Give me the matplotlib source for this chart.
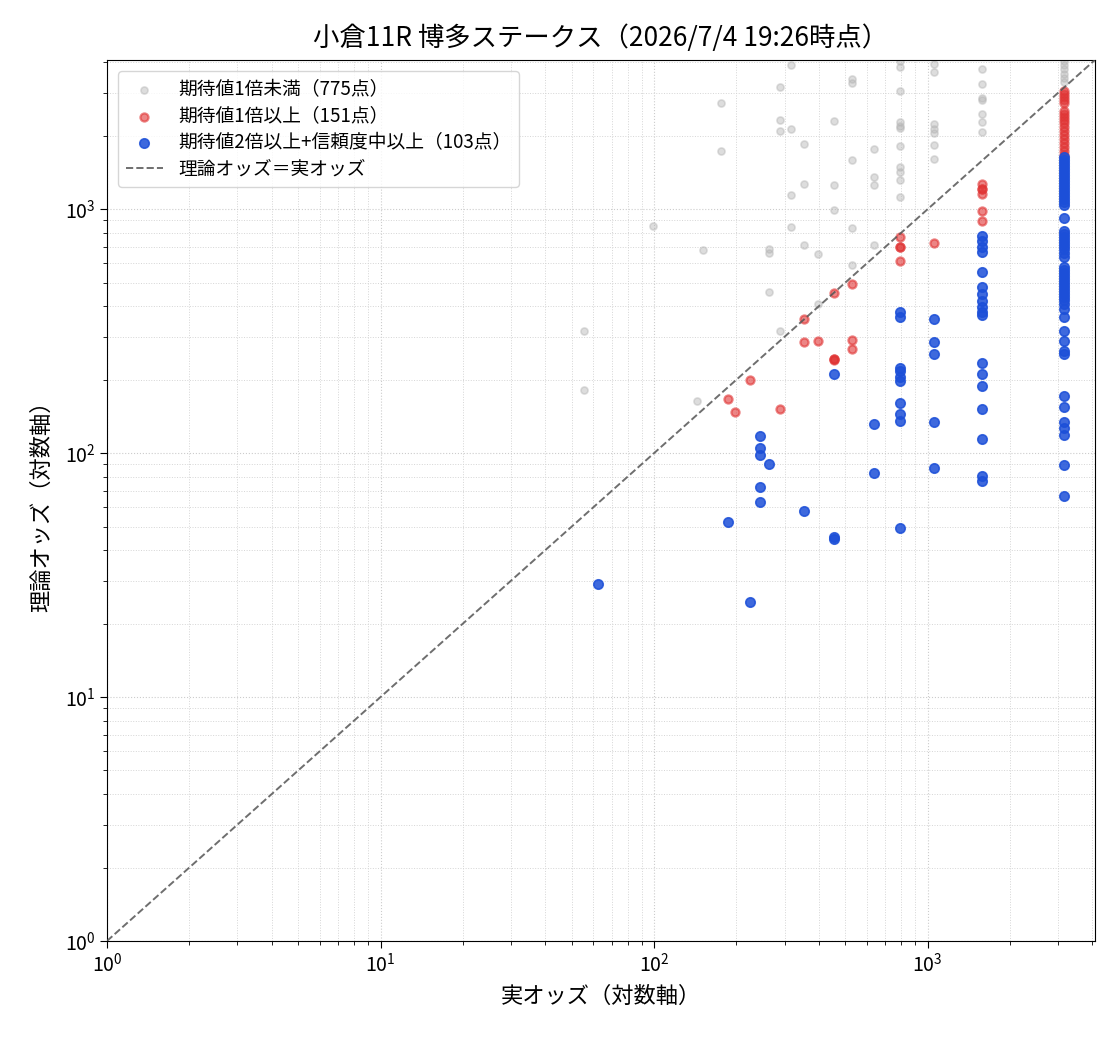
import matplotlib
matplotlib.use("Agg")
import matplotlib.pyplot as plt
import numpy as np

plt.rcParams['font.family'] = ['Noto Sans CJK JP', 'DejaVu Sans']

title = "小倉11R 博多ステークス（2026/7/4 19:26時点）"
xlabel = "実オッズ（対数軸）"
ylabel = "理論オッズ（対数軸）"
label_gray = "期待値1倍未満（775点）"
label_red = "期待値1倍以上（151点）"
label_blue = "期待値2倍以上+信頼度中以上（103点）"
label_line = "理論オッズ＝実オッズ"

# gray: expected value < 1 (visible ones)
gray_x = [55.3, 55.3, 98.8, 144, 150.6, 175, 175, 264, 264, 264, 288, 288, 288, 288,
          316, 316, 316, 316, 352, 352, 352, 396, 396, 453, 453, 453,
          527, 527, 527, 527, 527, 634, 634, 634, 634,
          789, 789, 789, 789, 789, 789, 789, 789, 789, 789, 789,
          1051, 1051, 1051, 1051, 1051, 1051, 1051,
          1574, 1574, 1574, 1574, 1574, 1574, 1574,
          3140, 3140, 3140, 3140, 3140, 3140]
gray_y = [316, 182, 851, 163, 678, 2721, 1729, 684, 659, 456, 3165, 2316, 2089, 316,
          3893, 2128, 1140, 843, 1846, 1265, 711, 653, 407, 2295, 1253, 989,
          3300, 3400, 1587, 835, 589, 1762, 1352, 1253, 711,
          4046, 3822, 3047, 2274, 2189, 2150, 1813, 1486, 1417, 1314, 1119,
          3934, 3645, 2230, 2128, 2048, 1829, 1603,
          3750, 3257, 2851, 2800, 2451, 2274, 2069,
          4046, 3893, 3750, 3580, 3444, 3318]

# red: expected value >= 1
red_x = [186, 197, 225, 288, 352, 352, 396, 453, 453, 453, 453, 527, 527, 527,
         789, 789, 789, 789, 1051,
         1574, 1574, 1574, 1574, 1574, 1574,
         3140, 3140, 3140, 3140, 3140, 3140, 3140, 3140, 3140, 3140, 3140, 3140,
         3140, 3140, 3140, 3140, 3140, 3140]
red_y = [166, 148, 200, 152, 353, 284, 287, 452, 242, 243, 241, 492, 292, 266,
         767, 698, 700, 611, 724,
         1265, 1207, 1210, 1151, 980, 892,
         3047, 2960, 2877, 2799, 2722, 2523, 2451, 2384, 2317, 2251, 2167, 2089,
         2011, 1936, 1864, 1795, 1728, 1664]

# blue: expected value >= 2 and confidence >= medium
blue_x = [62.2, 186, 225, 243, 243, 243, 243, 243, 264, 352, 453, 453, 453, 634, 634,
          789, 789, 789, 789, 789, 789, 789, 789, 789, 789,
          1051, 1051, 1051, 1051, 1051,
          1574, 1574, 1574, 1574, 1574, 1574, 1574, 1574, 1574, 1574, 1574,
          1574, 1574, 1574, 1574, 1574, 1574, 1574,
          3140, 3140, 3140, 3140, 3140, 3140, 3140, 3140, 3140, 3140, 3140, 3140,
          3140, 3140, 3140, 3140, 3140, 3140, 3140, 3140, 3140, 3140, 3140, 3140,
          3140, 3140, 3140, 3140, 3140, 3140, 3140, 3140, 3140, 3140, 3140, 3140,
          3140, 3140, 3140, 3140, 3140, 3140, 3140, 3140, 3140, 3140, 3140, 3140,
          3140, 3140, 3140, 3140, 3140]
blue_y = [29.2, 52.4, 24.6, 117, 104.6, 97.8, 72.9, 63.3, 90.6, 58.1, 210, 44.6, 45.5, 131, 82.5,
          377, 360, 224, 216, 206, 197, 160, 145, 136, 49.1,
          353, 284, 254, 134, 86.5,
          774, 738, 698, 666, 551, 478, 448, 419, 396, 377, 367,
          235, 210, 188, 152, 114, 80.2, 77.2,
          1633, 1587, 1541, 1498, 1458, 1417, 1377, 1340, 1300, 1265, 1229, 1196,
          1162, 1130, 1099, 1067, 1038, 918, 811, 789, 767, 746, 725, 705,
          685, 659, 635, 578, 562, 546, 531, 516, 501, 487, 474, 460,
          448, 435, 423, 407, 388, 360, 318, 287, 261, 254, 172, 155,
          134, 127, 119, 89, 67]

fig = plt.figure(figsize=(11.2, 10.4), dpi=100)
ax = fig.add_axes([0.0955, 0.0952, 0.882, 0.847])

ax.scatter(gray_x, gray_y, s=26, color='#b5b5b5', alpha=0.45, linewidths=1.2,
           label=label_gray, zorder=2)
ax.scatter(red_x, red_y, s=34, color='#e03434', alpha=0.6, linewidths=1.6,
           label=label_red, zorder=3)
ax.scatter(blue_x, blue_y, s=46, color='#1c4fd8', alpha=0.85, linewidths=1.2,
           label=label_blue, zorder=4)

lim = max(max(gray_x), max(red_x), max(blue_x)) * 1.3
ax.plot([1, lim], [1, lim], linestyle='--', color='#555555', alpha=0.85,
        linewidth=1.4, label=label_line, zorder=5)

ax.set_xscale('log')
ax.set_yscale('log')
ax.set_xlim(1, lim)
ax.set_ylim(1, lim)

ax.grid(True, which='major', linestyle=':', color='#cccccc', linewidth=0.8)
ax.grid(True, which='minor', linestyle=':', color='#d5d5d5', linewidth=0.7)
ax.tick_params(axis='both', which='major', labelsize=14, length=5)
ax.tick_params(axis='both', which='minor', length=3)

ax.set_title(title, fontsize=19, pad=10)
ax.set_xlabel(xlabel, fontsize=16, labelpad=6)
ax.set_ylabel(ylabel, fontsize=16, labelpad=8)

ax.legend(loc='upper left', fontsize=13.5, framealpha=0.8, labelspacing=0.3,
          borderaxespad=0.6)

fig.savefig("out.png", dpi=100)
